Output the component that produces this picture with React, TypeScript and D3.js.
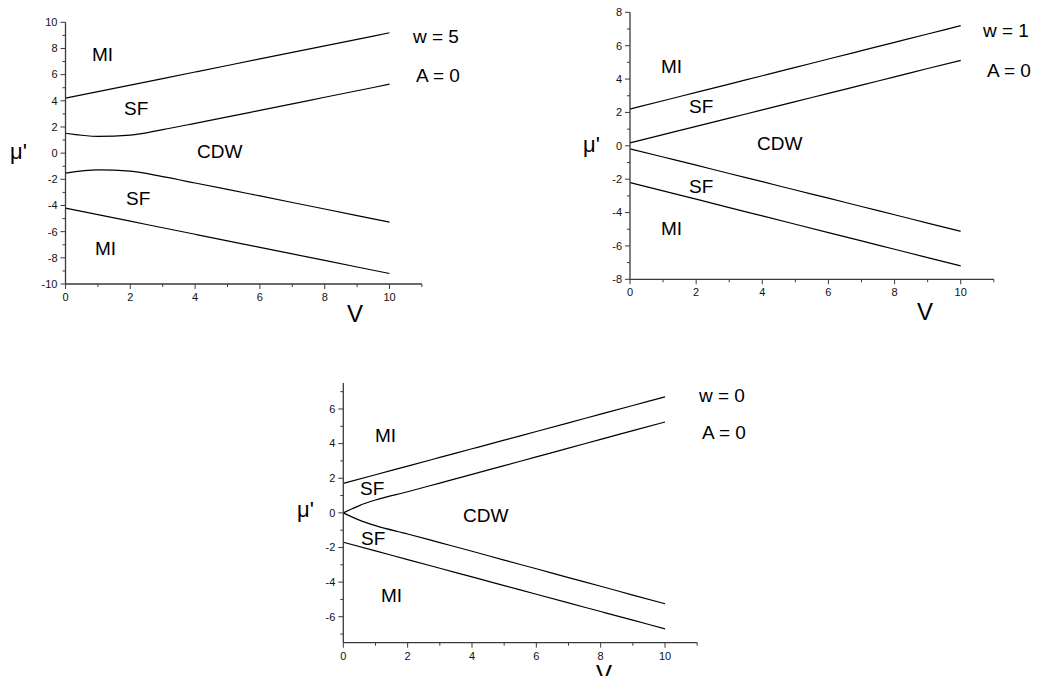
import React from "react";
import * as d3 from "d3";

// Interaction strength V (horizontal axis) sample points
const vGrid = [0, 1, 2, 3, 4, 5, 6, 7, 8, 9, 10];
const vFine = [0, 0.5, 1, 2, 3, 4, 5, 6, 7, 8, 9, 10];

// w = 5 phase boundaries (mu')
const w5UpperMiSf = [4.2, 4.7, 5.2, 5.7, 6.2, 6.7, 7.2, 7.7, 8.2, 8.7, 9.2];
const w5UpperSfCdw = [1.52, 1.28, 1.38, 1.8, 2.28, 2.77, 3.27, 3.77, 4.27, 4.77, 5.27];
const w5LowerSfCdw = [-1.52, -1.28, -1.38, -1.8, -2.28, -2.77, -3.27, -3.77, -4.27, -4.77, -5.27];
const w5LowerMiSf = [-4.2, -4.7, -5.2, -5.7, -6.2, -6.7, -7.2, -7.7, -8.2, -8.7, -9.2];

// w = 1 phase boundaries
const w1UpperMiSf = [2.2, 2.7, 3.2, 3.7, 4.2, 4.7, 5.2, 5.7, 6.2, 6.7, 7.2];
const w1UpperSfCdw = [0.18, 0.67, 1.16, 1.66, 2.15, 2.65, 3.14, 3.64, 4.13, 4.63, 5.12];
const w1LowerSfCdw = [-0.18, -0.67, -1.16, -1.66, -2.15, -2.65, -3.14, -3.64, -4.13, -4.63, -5.12];
const w1LowerMiSf = [-2.2, -2.7, -3.2, -3.7, -4.2, -4.7, -5.2, -5.7, -6.2, -6.7, -7.2];

// w = 0 phase boundaries
const w0UpperMiSf = [1.7, 2.2, 2.7, 3.2, 3.7, 4.2, 4.7, 5.2, 5.7, 6.2, 6.7];
const w0UpperSfCdw = [0, 0.42, 0.74, 1.22, 1.72, 2.22, 2.73, 3.23, 3.74, 4.24, 4.75, 5.25];
const w0LowerSfCdw = [0, -0.42, -0.74, -1.22, -1.72, -2.22, -2.73, -3.23, -3.74, -4.24, -4.75, -5.25];
const w0LowerMiSf = [-1.7, -2.2, -2.7, -3.2, -3.7, -4.2, -4.7, -5.2, -5.7, -6.2, -6.7];

const FONT = "'Liberation Sans', Arial, Helvetica, sans-serif";

type Curve = { xs: number[]; ys: number[] };
type Label = { text: string; x: number; y: number };

type PanelProps = {
  xRange: [number, number];
  yRange: [number, number];
  yDomain: [number, number];
  yTickMin: number;
  yTickMax: number;
  curves: Curve[];
  labels: Label[];
  params: Label[];
  muPos: [number, number];
  vPos: [number, number];
};

function Panel({ xRange, yRange, yDomain, yTickMin, yTickMax, curves, labels, params, muPos, vPos }: PanelProps) {
  const x = d3.scaleLinear().domain([0, 11]).range(xRange);
  const y = d3.scaleLinear().domain(yDomain).range(yRange);
  const line = (c: Curve) =>
    d3
      .line<number>()
      .x((_, i) => x(c.xs[i]))
      .y((d) => y(d))
      .curve(d3.curveMonotoneX)(c.ys) || "";

  const x0 = x(0);
  const yBase = y(yDomain[0]);
  const xTicks = d3.range(0, 12, 1);
  const yTicks = d3.range(yTickMin, yTickMax + 1, 1);
  const axisColor = "#3a3a3a";

  return (
    <g>
      {/* boundaries */}
      {curves.map((c, i) => (
        <path key={i} d={line(c)} fill="none" stroke="#000" strokeWidth={1.2} />
      ))}
      {/* y axis */}
      <line x1={x0} x2={x0} y1={y(yDomain[1])} y2={yBase} stroke={axisColor} strokeWidth={1.3} />
      {yTicks.map((t) => {
        const major = t % 2 === 0;
        return (
          <g key={"y" + t}>
            <line x1={x0 - (major ? 5 : 3)} x2={x0} y1={y(t)} y2={y(t)} stroke={axisColor} strokeWidth={1} />
            {major && (
              <text x={x0 - 8} y={y(t)} dy="0.35em" textAnchor="end" fontSize={11} fontFamily={FONT} fill="#111">
                {t}
              </text>
            )}
          </g>
        );
      })}
      {/* x axis */}
      <line x1={x0} x2={x(11)} y1={yBase} y2={yBase} stroke={axisColor} strokeWidth={1.3} />
      {xTicks.map((t) => {
        const major = t % 2 === 0;
        return (
          <g key={"x" + t}>
            <line x1={x(t)} x2={x(t)} y1={yBase} y2={yBase + (major ? 5 : 3)} stroke={axisColor} strokeWidth={1} />
            {major && (
              <text x={x(t)} y={yBase + 17} textAnchor="middle" fontSize={11} fontFamily={FONT} fill="#111">
                {t}
              </text>
            )}
          </g>
        );
      })}
      {/* phase labels */}
      {labels.concat(params).map((l, i) => (
        <text key={"l" + i} x={l.x} y={l.y} fontSize={19} fontFamily={FONT} fill="#000">
          {l.text}
        </text>
      ))}
      <text x={muPos[0]} y={muPos[1]} fontSize={22} fontFamily={FONT} fill="#000">
        {"\u03bc'"}
      </text>
      <text x={vPos[0]} y={vPos[1]} fontSize={24} fontFamily={FONT} fill="#000">
        V
      </text>
    </g>
  );
}

export default function App() {
  return (
    <svg
      width={1042}
      height={676}
      style={{ position: "absolute", left: 0, top: 0, background: "#fff", overflow: "hidden" }}
    >
      <rect width={1042} height={676} fill="#fff" />
      <Panel
        xRange={[65.5, 421.9]}
        yRange={[284, 22.3]}
        yDomain={[-10, 10]}
        yTickMin={-10}
        yTickMax={10}
        curves={[
          { xs: vGrid, ys: w5UpperMiSf },
          { xs: vGrid, ys: w5UpperSfCdw },
          { xs: vGrid, ys: w5LowerSfCdw },
          { xs: vGrid, ys: w5LowerMiSf },
        ]}
        labels={[
          { text: "MI", x: 92, y: 61 },
          { text: "SF", x: 124, y: 115 },
          { text: "CDW", x: 197, y: 158 },
          { text: "SF", x: 126, y: 205 },
          { text: "MI", x: 95, y: 255 },
        ]}
        params={[
          { text: "w = 5", x: 413, y: 43 },
          { text: "A = 0", x: 416, y: 82 },
        ]}
        muPos={[10, 159]}
        vPos={[347, 322]}
      />
      <Panel
        xRange={[630, 993.8]}
        yRange={[279.3, 12.3]}
        yDomain={[-8, 8]}
        yTickMin={-8}
        yTickMax={8}
        curves={[
          { xs: vGrid, ys: w1UpperMiSf },
          { xs: vGrid, ys: w1UpperSfCdw },
          { xs: vGrid, ys: w1LowerSfCdw },
          { xs: vGrid, ys: w1LowerMiSf },
        ]}
        labels={[
          { text: "MI", x: 661, y: 73 },
          { text: "SF", x: 689, y: 113 },
          { text: "CDW", x: 757, y: 150 },
          { text: "SF", x: 689, y: 193 },
          { text: "MI", x: 661, y: 235 },
        ]}
        params={[
          { text: "w = 1", x: 983, y: 37 },
          { text: "A = 0", x: 987, y: 77 },
        ]}
        muPos={[583, 152]}
        vPos={[917, 320]}
      />
      <Panel
        xRange={[343.3, 697.2]}
        yRange={[642.7, 383]}
        yDomain={[-7.5, 7.5]}
        yTickMin={-7}
        yTickMax={7}
        curves={[
          { xs: vGrid, ys: w0UpperMiSf },
          { xs: vFine, ys: w0UpperSfCdw },
          { xs: vFine, ys: w0LowerSfCdw },
          { xs: vGrid, ys: w0LowerMiSf },
        ]}
        labels={[
          { text: "MI", x: 375, y: 442 },
          { text: "SF", x: 360, y: 495 },
          { text: "CDW", x: 463, y: 522 },
          { text: "SF", x: 361, y: 545 },
          { text: "MI", x: 381, y: 602 },
        ]}
        params={[
          { text: "w = 0", x: 699, y: 402 },
          { text: "A = 0", x: 702, y: 439 },
        ]}
        muPos={[297, 517]}
        vPos={[596, 682]}
      />
    </svg>
  );
}
